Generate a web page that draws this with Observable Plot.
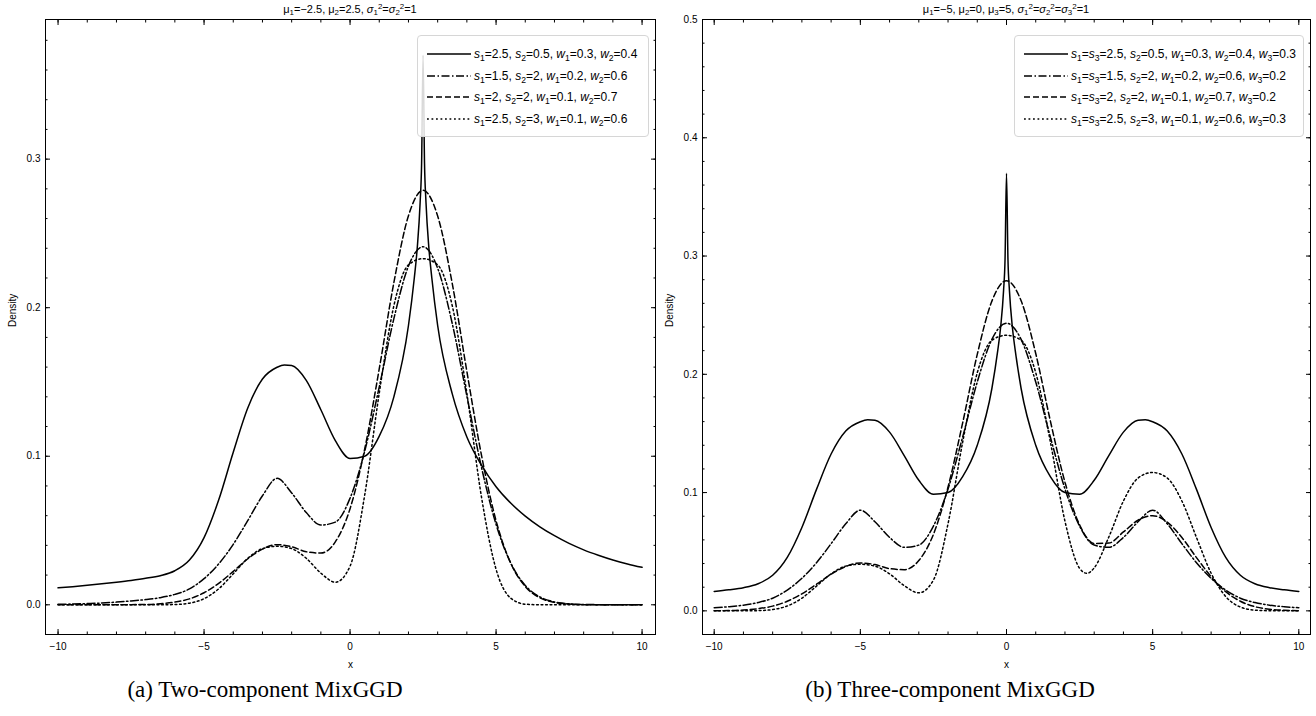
<!DOCTYPE html>
<html><head><meta charset="utf-8">
<script src="https://cdn.jsdelivr.net/npm/d3@7"></script>
<script src="https://cdn.jsdelivr.net/npm/@observablehq/plot@0.6"></script>
<style>
body{margin:0;background:#fff;}
#root{position:relative;width:1316px;height:716px;overflow:hidden;background:#fff;font-family:"Liberation Sans",Arial,sans-serif;color:#000;}
.plot{position:absolute;top:0;}
.title{position:absolute;top:2px;font-size:11px;line-height:14px;white-space:nowrap;transform:translateX(-50%);}
.legend{position:absolute;box-sizing:border-box;border:1px solid #d6d6d6;border-radius:4px;background:rgba(255,255,255,0.85);font-size:12px;}
.row{position:absolute;left:0;height:20px;display:flex;align-items:center;white-space:nowrap;}
.row svg{margin-left:9px;margin-right:3px;}
.caption{position:absolute;top:677px;font-family:"Liberation Serif","Times New Roman",serif;font-size:23px;white-space:nowrap;transform:translateX(-50%);}
sub{font-size:0.72em;vertical-align:-0.3em;line-height:0;}
sup{font-size:0.72em;vertical-align:0.5em;line-height:0;}
</style></head>
<body><div id="root"></div>
<script>
// ---------- data ----------
const xGrid = [-10,-9.5,-9,-8.5,-8,-7.5,-7,-6.5,-6,-5.5,-5,-4.5,-4,-3.5,-3,-2.5,-2,-1.5,-1,-0.5,0,0.5,1,1.5,2,2.5,3,3.5,4,4.5,5,5.5,6,6.5,7,7.5,8,8.5,9,9.5,10];

// Panel (a): two-component
const solidAX = [-10,-9.5,-9,-8.5,-8,-7.5,-7,-6.5,-6,-5.5,-5,-4.5,-4,-3.5,-3,-2.5,-2.25,-2,-1.5,-1,-0.5,0,0.5,1,1.5,2,2.2,2.3,2.4,2.45,2.5,2.55,2.6,2.7,2.8,3,3.5,4,4.5,5,5.5,6,6.5,7,7.5,8,8.5,9,9.5,10];
const solidAY = [0.0114,0.0122,0.0131,0.0141,0.0152,0.0164,0.0178,0.0196,0.0229,0.0301,0.0452,0.0705,0.1027,0.1326,0.1520,0.1599,0.1615,0.1611,0.1511,0.1313,0.1104,0.0985,0.1000,0.1135,0.140,0.188,0.220,0.240,0.271,0.297,0.370,0.297,0.271,0.240,0.220,0.188,0.142,0.113,0.094,0.0795,0.0685,0.0597,0.0525,0.0465,0.0413,0.0370,0.0334,0.0302,0.0275,0.0252];
const dashDotA = [0.0003,0.0005,0.0008,0.0012,0.0018,0.0026,0.0035,0.0048,0.0070,0.0107,0.0176,0.0275,0.0407,0.0568,0.0734,0.0851,0.0753,0.0621,0.0537,0.0557,0.0718,0.1033,0.1467,0.1926,0.2280,0.2410,0.2266,0.1893,0.1405,0.0926,0.0542,0.0282,0.0130,0.0053,0.0019,0.0006,0.0002,0.0001,0,0,0];
const dashedA = [0,0,0,0,0,0.0001,0.0002,0.0007,0.0018,0.0040,0.0081,0.0144,0.0225,0.0310,0.0375,0.0405,0.0391,0.0357,0.0348,0.0425,0.0647,0.1047,0.1589,0.2169,0.2619,0.2790,0.2617,0.2162,0.1571,0.1007,0.0566,0.0281,0.0123,0.0047,0.0016,0.0005,0.0001,0,0,0,0];
const dottedA = [0,0,0,0,0,0,0,0,0.0002,0.0011,0.0041,0.0107,0.0209,0.0313,0.0378,0.0394,0.0378,0.0313,0.0213,0.0152,0.0260,0.0737,0.1426,0.2013,0.2288,0.2330,0.2288,0.2013,0.1424,0.0726,0.0239,0.0045,0.0004,0,0,0,0,0,0,0,0];

// Panel (b): three-component
const solidBX = [-10,-9.5,-9,-8.5,-8,-7.5,-7,-6.5,-6,-5.5,-5,-4.75,-4.5,-4,-3.5,-3,-2.5,-2,-1.5,-1,-0.5,-0.3,-0.2,-0.1,-0.05,0,0.05,0.1,0.2,0.3,0.5,1,1.5,2,2.5,3,3.5,4,4.5,4.75,5,5.5,6,6.5,7,7.5,8,8.5,9,9.5,10];
const solidBY = [0.0164,0.0178,0.0196,0.0229,0.0301,0.0452,0.0705,0.1027,0.1326,0.1520,0.1599,0.1615,0.1611,0.1511,0.1313,0.1104,0.0985,0.1000,0.1135,0.140,0.188,0.220,0.240,0.271,0.297,0.370,0.297,0.271,0.240,0.220,0.188,0.140,0.1135,0.1000,0.0985,0.1104,0.1313,0.1511,0.1611,0.1615,0.1599,0.1520,0.1326,0.1027,0.0705,0.0452,0.0301,0.0229,0.0196,0.0178,0.0164];
const dashDotB = [0.0026,0.0035,0.0048,0.0070,0.0107,0.0176,0.0275,0.0407,0.0568,0.0736,0.0851,0.0753,0.0621,0.0537,0.0556,0.0717,0.1031,0.1470,0.1935,0.2295,0.2432,0.2295,0.1935,0.1470,0.1031,0.0717,0.0556,0.0537,0.0621,0.0753,0.0851,0.0736,0.0568,0.0407,0.0275,0.0176,0.0107,0.0070,0.0048,0.0035,0.0026];
const dashedB = [0.0001,0.0002,0.0007,0.0018,0.0040,0.0081,0.0144,0.0225,0.0310,0.0375,0.0405,0.0391,0.0357,0.0348,0.0425,0.0647,0.1047,0.1589,0.2169,0.2619,0.2792,0.2622,0.2176,0.1606,0.1088,0.0728,0.0570,0.0573,0.0667,0.0766,0.0805,0.0750,0.0620,0.0450,0.0289,0.0162,0.0081,0.0035,0.0014,0.0005,0.0001];
const dottedBX = [-10,-9.5,-9,-8.5,-8,-7.5,-7,-6.5,-6,-5.5,-5,-4.5,-4,-3.5,-3,-2.5,-2,-1.5,-1,-0.5,0,0.5,1,1.5,2,2.5,2.75,3,3.5,4,4.5,5,5.5,6,6.5,7,7.5,8,8.5,9,9.5,10];
const dottedBY = [0,0,0,0.0002,0.0011,0.0041,0.0107,0.0209,0.0313,0.0378,0.0394,0.0378,0.0313,0.0213,0.0152,0.0260,0.0737,0.1426,0.2013,0.2288,0.2330,0.2288,0.2014,0.1430,0.0758,0.0360,0.0317,0.0363,0.0624,0.0929,0.1123,0.1170,0.1123,0.0929,0.0620,0.0318,0.0121,0.0032,0.0006,0.0001,0,0];

// labels
const titleA = "μ_1=−2.5, μ_2=2.5, σ_1^2=σ_2^2=1";
const titleB = "μ_1=−5, μ_2=0, μ_3=5, σ_1^2=σ_2^2=σ_3^2=1";
const legendA = ["s_1=2.5, s_2=0.5, w_1=0.3, w_2=0.4","s_1=1.5, s_2=2, w_1=0.2, w_2=0.6","s_1=2, s_2=2, w_1=0.1, w_2=0.7","s_1=2.5, s_2=3, w_1=0.1, w_2=0.6"];
const legendB = ["s_1=s_3=2.5, s_2=0.5, w_1=0.3, w_2=0.4, w_3=0.3","s_1=s_3=1.5, s_2=2, w_1=0.2, w_2=0.6, w_3=0.2","s_1=s_3=2, s_2=2, w_1=0.1, w_2=0.7, w_3=0.2","s_1=s_3=2.5, s_2=3, w_1=0.1, w_2=0.6, w_3=0.3"];
const captionA = "(a) Two-component MixGGD";
const captionB = "(b) Three-component MixGGD";
const xMajorTicks = [-10,-5,0,5,10];
const yMajorA = [0,0.1,0.2,0.3];
const yMajorB = [0,0.1,0.2,0.3,0.4,0.5];
const dashes = [null, "8,2.5,1.5,2.5", "6,3", "1.8,2.7"];

// ---------- rendering ----------
const root = document.getElementById("root");

function mathHTML(s){
  return s.replace(/([a-zσμ])_(\d)(?:\^(\d))?/g, (m, v, sb, sp) => {
    const base = v === "μ" ? v : `<i>${v}</i>`;
    return base + `<sub>${sb}</sub>` + (sp ? `<sup>${sp}</sup>` : "");
  });
}

function makePanel(p){
  const marks = [];
  p.series.forEach((s, k) => {
    const data = s.x.map((x, i) => ({x, y: s.y[i]}));
    marks.push(Plot.line(data, {x: "x", y: "y", stroke: "black", strokeWidth: 1.5,
      strokeDasharray: dashes[k] || undefined, curve: "monotone-x"}));
  });
  const fmtX = d => d < 0 ? "\u2212" + Math.abs(d) : String(d);
  const xMinor = d3.range(-10, 10.5, 1);
  const yMinor = d3.range(-0.02, p.yDomain[1] + 1e-9, 0.02).map(v => +v.toFixed(2));
  const none = () => "";
  marks.push(
    Plot.frame({stroke: "black", strokeWidth: 1}),
    Plot.axisX(xMinor, {anchor: "bottom", tickSize: -2.5, tickFormat: none, label: null}),
    Plot.axisX(xMinor, {anchor: "top", tickSize: -2.5, tickFormat: none, label: null}),
    Plot.axisX(xMajorTicks, {anchor: "bottom", tickSize: -5, tickPadding: 13, tickFormat: fmtX, label: null, fontSize: 10}),
    Plot.axisX(xMajorTicks, {anchor: "top", tickSize: -5, tickFormat: none, label: null}),
    Plot.axisY(yMinor, {anchor: "left", tickSize: -2.5, tickFormat: none, label: null}),
    Plot.axisY(yMinor, {anchor: "right", tickSize: -2.5, tickFormat: none, label: null}),
    Plot.axisY(p.yMajor, {anchor: "left", tickSize: -5, tickPadding: 10, tickFormat: d3.format(".1f"), label: null, fontSize: 10}),
    Plot.axisY(p.yMajor, {anchor: "right", tickSize: -5, tickFormat: none, label: null}),
    Plot.text(["x"], {text: d => d, frameAnchor: "bottom", dy: 33, fontSize: 10}),
    Plot.text(["Density"], {text: d => d, frameAnchor: "left", dx: -33, rotate: -90, fontSize: 10})
  );
  const svg = Plot.plot({
    width: p.width, height: 680,
    marginLeft: 45, marginRight: p.marginRight, marginTop: 19, marginBottom: 46,
    x: {type: "linear", domain: p.xDomain},
    y: {type: "linear", domain: p.yDomain},
    style: {fontFamily: "'Liberation Sans', Arial, sans-serif", fontSize: "10px", color: "black", background: "transparent", overflow: "visible"},
    marks
  });
  svg.classList.add("plot");
  svg.style.left = p.left + "px";
  root.appendChild(svg);

  const t = document.createElement("div");
  t.className = "title"; t.style.left = p.titleX + "px"; t.innerHTML = mathHTML(p.title);
  root.appendChild(t);

  const lg = document.createElement("div");
  lg.className = "legend";
  Object.assign(lg.style, {left: p.legend.left + "px", top: p.legend.top + "px", width: p.legend.width + "px", height: p.legend.height + "px"});
  p.labels.forEach((lab, k) => {
    const row = document.createElement("div");
    row.className = "row"; row.style.top = (8 + k * 21.5) + "px";
    const ns = "http://www.w3.org/2000/svg";
    const s = document.createElementNS(ns, "svg");
    s.setAttribute("width", 44); s.setAttribute("height", 20);
    const ln = document.createElementNS(ns, "line");
    ln.setAttribute("x1", 0); ln.setAttribute("x2", 44); ln.setAttribute("y1", 10); ln.setAttribute("y2", 10);
    ln.setAttribute("stroke", "black"); ln.setAttribute("stroke-width", 1.5);
    if (dashes[k]) ln.setAttribute("stroke-dasharray", dashes[k]);
    s.appendChild(ln); row.appendChild(s);
    const sp = document.createElement("span"); sp.innerHTML = mathHTML(lab);
    row.appendChild(sp);
    lg.appendChild(row);
  });
  root.appendChild(lg);

  const c = document.createElement("div");
  c.className = "caption"; c.style.left = p.captionX + "px"; c.textContent = p.caption;
  root.appendChild(c);
}

makePanel({
  left: 0, width: 657, marginRight: 2,
  xDomain: [-10.43, 10.46], yDomain: [-0.02, 0.394], yMajor: yMajorA,
  series: [{x: solidAX, y: solidAY}, {x: xGrid, y: dashDotA}, {x: xGrid, y: dashedA}, {x: xGrid, y: dottedA}],
  title: titleA, titleX: 350, labels: legendA,
  legend: {left: 417, top: 35, width: 232, height: 102},
  caption: captionA, captionX: 265
});
makePanel({
  left: 657, width: 659, marginRight: 6,
  xDomain: [-10.4, 10.4], yDomain: [-0.02, 0.5], yMajor: yMajorB,
  series: [{x: solidBX, y: solidBY}, {x: xGrid, y: dashDotB}, {x: xGrid, y: dashedB}, {x: dottedBX, y: dottedBY}],
  title: titleB, titleX: 1006, labels: legendB,
  legend: {left: 1014, top: 35, width: 290, height: 102},
  caption: captionB, captionX: 950
});
</script></body></html>
